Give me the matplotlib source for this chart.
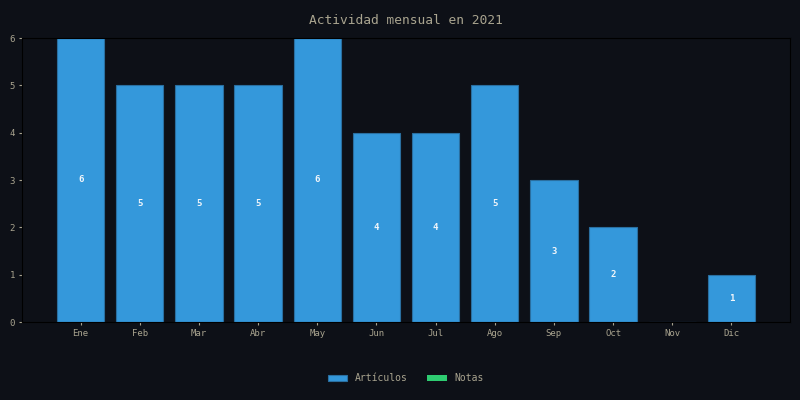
import matplotlib
matplotlib.use("Agg")
import matplotlib.pyplot as plt
import numpy as np

months = ["Ene", "Feb", "Mar", "Abr", "May", "Jun", "Jul", "Ago", "Sep", "Oct", "Nov", "Dic"]
articulos = [6, 5, 5, 5, 6, 4, 4, 5, 3, 2, 0, 1]
notas = [0, 0, 0, 0, 0, 0, 0, 0, 0, 0, 0, 0]

bg = "#0d1017"
txt = "#a9a48f"
plt.rcParams['font.family'] = ['DejaVu Sans Mono']

fig = plt.figure(figsize=(8, 4), dpi=100, facecolor=bg)
ax = fig.add_axes([0.0275, 0.195, 0.96, 0.71])
ax.set_facecolor(bg)
x = np.arange(len(months))
b1 = ax.bar(x, articulos, 0.8, color="#3498db", edgecolor="#2a6fa0", linewidth=0.8, label="Artículos")
b2 = ax.bar(x, notas, 0.8, bottom=articulos, color="#2ecc71", edgecolor="#2aa05a", linewidth=0, label="Notas")
for xi, v in zip(x, articulos):
    if v > 0:
        ax.text(xi, v / 2, str(v), ha="center", va="center", color="#f2f6fa", fontsize=6.5, fontweight="bold")

ax.margins(x=0.05)
ax.set_ylim(0, 6)
ax.set_xticks(x)
ax.set_xticklabels(months)
ax.set_yticks(range(7))
ax.tick_params(colors=txt, labelsize=6.5, length=2.5, width=0.8, pad=2.5)
for s in ax.spines.values():
    s.set_color("#000000")
    s.set_linewidth(0.8)
ax.set_title("Actividad mensual en 2021", color=txt, fontsize=9.3, pad=10)
leg = ax.legend(loc="upper center", bbox_to_anchor=(0.5, -0.15), ncol=2, frameon=False,
                fontsize=7, labelcolor=txt, handlelength=2.0, handleheight=0.7, columnspacing=2.0)
fig.savefig("out.png", dpi=100, facecolor=bg)
